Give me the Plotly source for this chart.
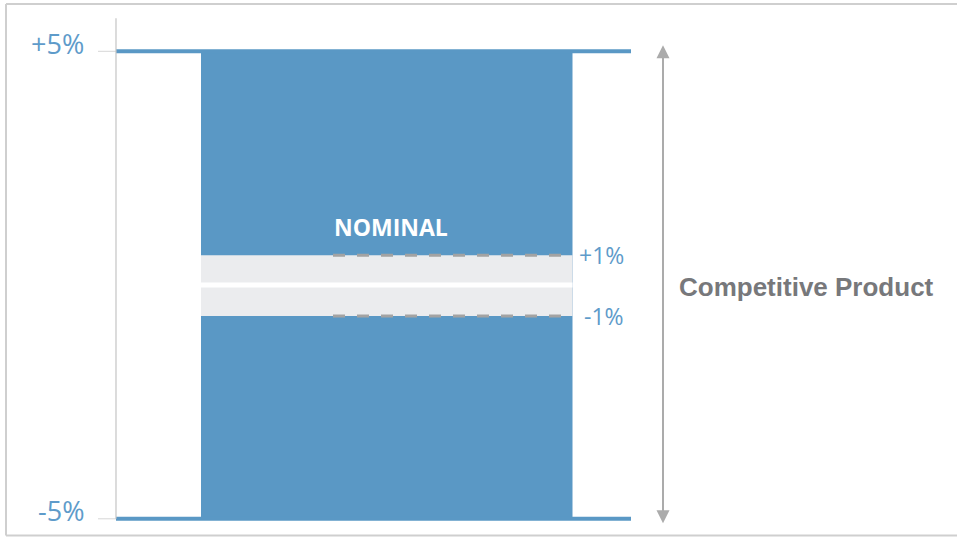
import plotly.graph_objects as go

# ---- data ----
outer_limits = [5, -5]                 # percent
outer_labels = ["+5%", "-5%"]
inner_limits = [0.64, -0.66]           # schematic positions of the ±1% band
inner_labels = ["+1%", "-1%"]
gap_half = 0.055                       # white gap at nominal
nominal_label = "NOMINAL"
side_label = "Competitive Product"

BLUE = "#5A98C5"
TXT_BLUE = "#5E9BCA"
GREY_BAND = "#EBECEE"
DASH = "#A3A3A3"
AXIS = "#C4C4C4"

W, H = 957, 537
px_top, px_bot = 51.3, 518.8
scale = (px_bot - px_top) / (outer_limits[0] - outer_limits[1])
y_hi = outer_limits[0] + px_top / scale
y_lo = outer_limits[1] - (H - px_bot) / scale

fig = go.Figure()
fig.add_trace(go.Scatter(x=[0], y=[0], mode="markers", marker=dict(opacity=0), hoverinfo="skip", showlegend=False))

shapes = []
# border (left, top, bottom)
for (x0, x1, y0, y1) in [(6, 6, 1 - 535.5 / H, 1 - 4 / H), (6, W, 1 - 4 / H, 1 - 4 / H), (6, W, 1 - 535.5 / H, 1 - 535.5 / H)]:
    shapes.append(dict(type="line", xref="x", yref="paper", x0=x0, x1=x1, y0=y0, y1=y1,
                       line=dict(color="#CFCFCF", width=2), layer="below"))
# blue block
shapes.append(dict(type="rect", xref="x", yref="y", x0=201, x1=572.5, y0=outer_limits[1], y1=outer_limits[0],
                   line=dict(width=0), fillcolor=BLUE, layer="below"))
# grey band with white gap at nominal
shapes.append(dict(type="rect", xref="x", yref="y", x0=201, x1=572.5, y0=inner_limits[1], y1=inner_limits[0],
                   line=dict(width=0), fillcolor=GREY_BAND, layer="below"))
shapes.append(dict(type="rect", xref="x", yref="y", x0=201, x1=572.5, y0=-gap_half, y1=gap_half,
                   line=dict(width=0), fillcolor="white", layer="below"))
# dashed tolerance lines
for v in inner_limits:
    shapes.append(dict(type="line", xref="x", yref="y", x0=333, x1=561, y0=v, y1=v,
                       line=dict(color=DASH, width=3, dash="12px,12px")))
# outer limit lines and ticks
for v in outer_limits:
    shapes.append(dict(type="line", xref="x", yref="y", x0=116, x1=631, y0=v, y1=v,
                       line=dict(color=BLUE, width=4)))
    shapes.append(dict(type="line", xref="x", yref="y", x0=98, x1=116, y0=v, y1=v,
                       line=dict(color="#D6D6D6", width=1)))
# vertical axis line
shapes.append(dict(type="line", xref="x", yref="y", x0=116, x1=116, y0=outer_limits[1], y1=outer_limits[0] + 33 / scale,
                   line=dict(color=AXIS, width=1.2)))

annotations = []
for v, t in zip(outer_limits, outer_labels):
    annotations.append(dict(x=86, y=v, xref="x", yref="y", text=t, showarrow=False, xanchor="right",
                            yanchor="middle", yshift=8, font=dict(family="Open Sans", size=27, color=TXT_BLUE)))
for v, t in zip(inner_limits, inner_labels):
    annotations.append(dict(x=626, y=v, xref="x", yref="y", text=t, showarrow=False, xanchor="right",
                            yanchor="middle", font=dict(family="Open Sans", size=23, color=TXT_BLUE)))
annotations.append(dict(x=391, y=inner_limits[0], xref="x", yref="y", text="<b>%s</b>" % nominal_label, showarrow=False,
                        xanchor="center", yanchor="middle", yshift=28,
                        font=dict(family="Open Sans", size=23, color="white")))
annotations.append(dict(x=677, y=(outer_limits[0] + outer_limits[1]) / 2, xref="x", yref="y",
                        text="<b>%s</b>" % side_label, showarrow=False, xanchor="left", yanchor="middle",
                        yshift=-2, font=dict(family="Liberation Sans", size=26, color="#77787B")))
# double arrow
arrow_ext = 6 / scale
annotations.append(dict(x=663, y=outer_limits[0] + arrow_ext, ax=663, ay=outer_limits[1] - arrow_ext,
                        xref="x", yref="y", axref="x", ayref="y", text="", showarrow=True,
                        arrowside="end+start", arrowhead=2, arrowsize=1.3, arrowwidth=2, arrowcolor="#ABABAB"))

fig.update_layout(
    width=W, height=H, margin=dict(l=0, r=0, t=0, b=0),
    paper_bgcolor="white", plot_bgcolor="white",
    xaxis=dict(range=[0, W], visible=False, fixedrange=True),
    yaxis=dict(range=[y_lo, y_hi], visible=False, fixedrange=True),
    shapes=shapes, annotations=annotations, showlegend=False,
)
fig.write_html("out.html", config={"displayModeBar": False},
               post_script="document.body.style.margin='0';document.body.style.overflow='hidden';")
